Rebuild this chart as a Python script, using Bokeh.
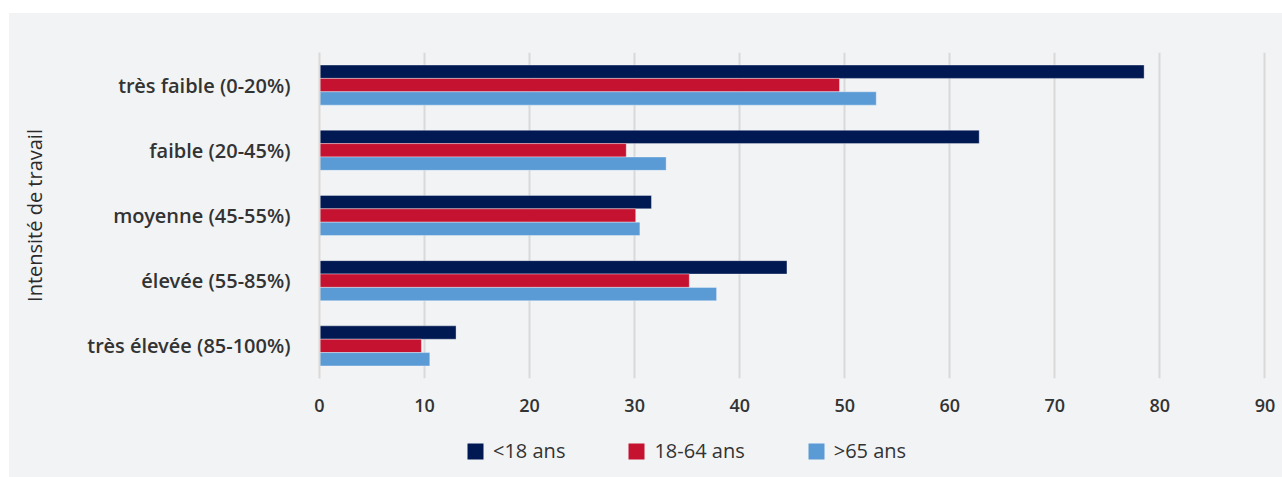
from bokeh.plotting import figure
from bokeh.models import ColumnDataSource, FactorRange, Range1d, FixedTicker, Legend, LegendItem, Spacer
from bokeh.layouts import column, row
from bokeh.transform import dodge
from bokeh.embed import file_html
from bokeh.resources import INLINE

categories = ["très faible (0-20%)", "faible (20-45%)", "moyenne (45-55%)",
              "élevée (55-85%)", "très élevée (85-100%)"]
under18 = [78.5, 62.8, 31.6, 44.5, 13.0]
age18_64 = [49.5, 29.2, 30.1, 35.2, 9.7]
over65 = [53.0, 33.0, 30.5, 37.8, 10.5]
series_names = ["<18 ans", "18-64 ans", ">65 ans"]
x_ticks = [0, 10, 20, 30, 40, 50, 60, 70, 80, 90]

colors = ["#001952", "#c41230", "#5b9bd5"]
panel = "#f2f3f5"
text_col = "#333333"
font = "Open Sans"
semi = "Open Sans SemiBold, Open Sans Semibold, Open Sans"

source = ColumnDataSource(dict(cat=categories, u18=under18, a1864=age18_64, o65=over65))

p = figure(width=1273, height=412, output_backend="svg", toolbar_location=None,
           y_range=FactorRange(*categories[::-1]), x_range=Range1d(0, 90.15))
p.min_border_left = 310
p.min_border_top = 39
p.min_border_right = 16
p.min_border_bottom = 47
p.background_fill_alpha = 0
p.border_fill_alpha = 0
p.outline_line_color = None

bw = 0.205
for field, off, col in zip(["u18", "a1864", "o65"], [bw, 0, -bw], colors):
    p.hbar(y=dodge("cat", off, range=p.y_range), right=field, left=0, height=bw,
           source=source, fill_color=col, line_color="white", line_alpha=0.35, line_width=1)

p.xgrid.grid_line_color = "#d9d9d9"
p.xgrid.grid_line_width = 2
p.ygrid.grid_line_color = None
p.xaxis.ticker = FixedTicker(ticks=x_ticks)
p.xaxis.axis_line_color = None
p.xaxis.major_tick_line_color = None
p.xaxis.minor_tick_line_color = None
p.xaxis.major_label_standoff = 14
p.xaxis.major_label_text_font = semi
p.xaxis.major_label_text_font_size = "18px"
p.xaxis.major_label_text_color = text_col

p.yaxis.axis_line_color = "#d9d9d9"
p.yaxis.axis_line_width = 2
p.yaxis.major_tick_line_color = None
p.yaxis.minor_tick_line_color = None
p.yaxis.major_label_standoff = 23
p.yaxis.major_label_text_font = semi
p.yaxis.major_label_text_font_size = "20px"
p.yaxis.major_label_text_color = text_col
p.yaxis.axis_label = "Intensité de travail"
p.yaxis.axis_label_text_font = font
p.yaxis.axis_label_text_font_style = "normal"
p.yaxis.axis_label_text_font_size = "20px"
p.yaxis.axis_label_text_color = "#2b2b2b"
p.yaxis.axis_label_standoff = 36

# legend strip
lg = figure(width=1273, height=52, output_backend="svg", toolbar_location=None,
            x_range=Range1d(0, 1), y_range=Range1d(0, 1))
lg.min_border_left = 0
lg.min_border_right = 0
lg.min_border_top = 0
lg.min_border_bottom = 0
lg.background_fill_alpha = 0
lg.border_fill_alpha = 0
lg.outline_line_color = None
lg.axis.visible = False
lg.grid.visible = False
dummy = ColumnDataSource(dict(y=[0.5], right=[0]))
leg_renderers = [lg.hbar(y="y", right="right", left=0, height=0.5, source=dummy,
                         fill_color=c, line_color=None) for c in colors]
legend = Legend(items=[LegendItem(label=n, renderers=[r]) for n, r in zip(series_names, leg_renderers)],
                orientation="horizontal", location=(146, 13))
legend.background_fill_alpha = 0
legend.border_line_color = None
legend.label_text_font = font
legend.label_text_font_size = "20px"
legend.label_text_color = text_col
legend.glyph_width = 20
legend.glyph_height = 20
legend.label_standoff = 8
legend.spacing = 61
legend.padding = 4
legend.margin = 0
lg.add_layout(legend, "center")

inner = column(p, lg, spacing=0, styles={"background-color": panel})
layout = column(Spacer(height=13), row(Spacer(width=9), inner), spacing=0)
open("out.html", "w").write(file_html(layout, INLINE))
